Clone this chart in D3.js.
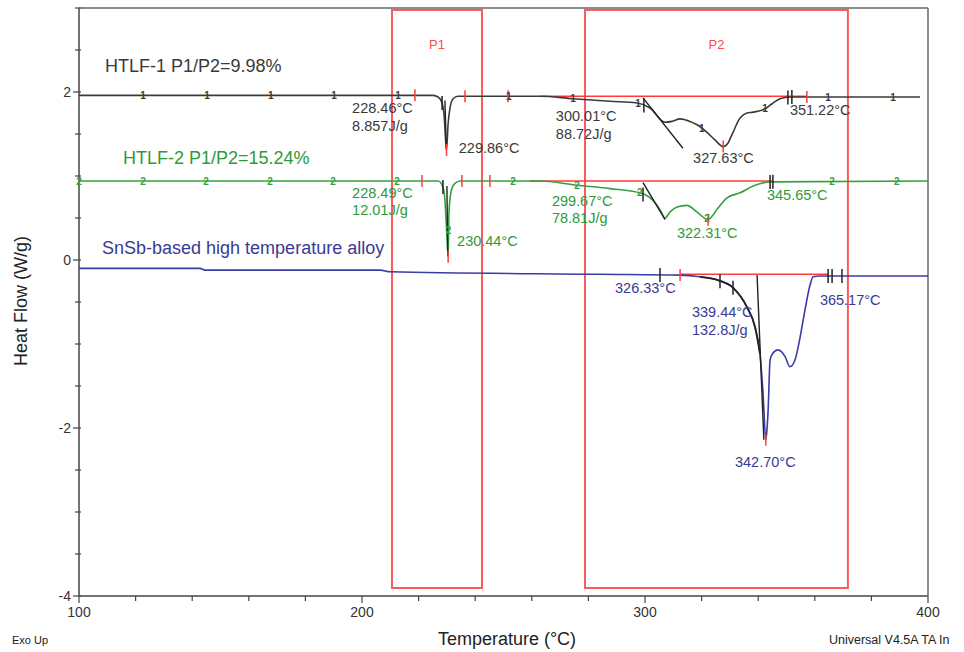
<!DOCTYPE html>
<html>
<head>
<meta charset="utf-8">
<script src="https://cdn.jsdelivr.net/npm/d3@7/dist/d3.min.js"></script>
<style>
  html, body { margin: 0; padding: 0; background: #fff; }
  svg { display: block; font-family: "Liberation Sans", Arial, sans-serif; }
</style>
</head>
<body>
<svg id="chart" width="964" height="652"></svg>
<script>
// ---------------- DATA ----------------
// HTLF-1 (curve 1): temperature (°C) and heat flow (W/g)
const temp1 = [100, 200, 225.1, 226.9, 228.3, 229.0, 229.86, 230.4, 231.1, 232.2, 233.9, 262.9, 274.6, 287.6, 297.2, 301.8, 307.1, 309.5, 312.4, 315.9, 318.4, 321.9, 324.7, 327.63, 329.3, 330.7, 333.6, 336.0, 338.2, 342.4, 344.9, 347.7, 351.2, 397.2];
const flow1 = [1.96, 1.96, 1.96, 1.94, 1.87, 1.73, 1.31, 1.61, 1.81, 1.92, 1.95, 1.95, 1.92, 1.89, 1.87, 1.81, 1.64, 1.65, 1.68, 1.65, 1.61, 1.52, 1.43, 1.35, 1.39, 1.49, 1.69, 1.75, 1.76, 1.80, 1.86, 1.92, 1.94, 1.94];

// HTLF-2 (curve 2)
const temp2 = [100, 225.1, 226.9, 228.6, 229.3, 230.0, 230.44, 230.7, 231.4, 232.5, 234.6, 262.9, 276.0, 287.6, 298.2, 302.8, 305.3, 307.1, 308.8, 311.3, 314.8, 318.4, 322.31, 323.7, 325.4, 329.0, 333.6, 338.2, 344.2, 400];
const flow2 = [0.94, 0.94, 0.94, 0.87, 0.71, 0.30, 0.04, 0.54, 0.80, 0.90, 0.94, 0.94, 0.89, 0.85, 0.80, 0.71, 0.60, 0.50, 0.57, 0.63, 0.65, 0.57, 0.48, 0.52, 0.60, 0.74, 0.80, 0.88, 0.93, 0.94];

// SnSb-based high temperature alloy (curve 3)
const temp3 = [100, 142.8, 144.5, 206.4, 209.9, 284.1, 312.4, 319.4, 325.8, 331.1, 336.0, 338.9, 340.6, 341.7, 342.70, 343.1, 343.5, 344.2, 345.2, 347.0, 349.5, 351.2, 353.0, 354.8, 356.5, 358.3, 359.4, 361.8, 400];
const flow3 = [-0.10, -0.10, -0.12, -0.12, -0.14, -0.17, -0.18, -0.20, -0.24, -0.33, -0.56, -0.80, -1.11, -1.58, -2.14, -2.02, -1.79, -1.19, -1.11, -1.07, -1.15, -1.27, -1.19, -0.92, -0.60, -0.30, -0.20, -0.19, -0.19];

// Series names
const seriesNames = ["HTLF-1 P1/P2=9.98%", "HTLF-2 P1/P2=15.24%", "SnSb-based high temperature alloy"];

// Curve number marker temperatures
const markers1 = [122.6, 145.2, 167.8, 190.1, 212.7, 251.9, 274.6, 297.5, 320.1, 342.4, 364.7, 387.6];
const markers2 = [100, 122.6, 144.9, 167.5, 189.8, 212.4, 230.6, 253.4, 276.0, 298.2, 321.9, 366.1, 389.0];

// Analysis tick temperatures (black / red)
const blackTicks1 = [228.3, 299.6, 350.5, 351.9];
const redTicks1 = [218.7, 236.4, 251.6, 229.86, 327.63, 357.2];
const blackTicks2 = [228.6, 299.3, 344.2, 345.2];
const redTicks2 = [221.2, 235.3, 245.2, 230.44, 322.31];
const blackTicks3 = [305.3, 326.5, 331.1, 364.7, 366.1, 369.6];
const redTicks3 = [312.4, 342.70];

// Integration baselines [T start, T end, heat flow]
const baselines = [[262.9, 357.2, 1.95], [259.4, 345.2, 0.94], [312.4, 364.7, -0.17]];

// Tangent construction lines [T1, v1, T2, v2]
const tangents = [[299.3, 1.93, 313.4, 1.33], [299.3, 0.92, 307.1, 0.48], [339.6, -0.18, 342.0, -2.14], [229.3, 1.90, 229.8, 1.31], [230.0, 0.88, 230.3, 0.05]];

// Peak analysis labels: [text, T anchor, heat-flow anchor, series]
const annotations = [
  ["228.46°C", 196.5, 1.745, 0], ["8.857J/g", 196.5, 1.535, 0], ["229.86°C", 234.2, 1.27, 0],
  ["300.01°C", 268.5, 1.66, 0], ["88.72J/g", 268.5, 1.44, 0], ["327.63°C", 317.0, 1.16, 0], ["351.22°C", 351.2, 1.73, 0],
  ["228.49°C", 196.5, 0.735, 1], ["12.01J/g", 196.5, 0.53, 1], ["230.44°C", 233.6, 0.17, 1],
  ["299.67°C", 267.1, 0.64, 1], ["78.81J/g", 267.1, 0.44, 1], ["322.31°C", 311.3, 0.26, 1], ["345.65°C", 343.1, 0.71, 1],
  ["326.33°C", 289.4, -0.39, 2], ["339.44°C", 316.6, -0.68, 2], ["132.8J/g", 316.6, -0.89, 2],
  ["342.70°C", 331.8, -2.47, 2], ["365.17°C", 361.8, -0.54, 2]
];

// Highlighted regions [label, T start, T end]
const regions = [["P1", 210.6, 242.4], ["P2", 278.8, 371.7]];

// Axis ticks
const xMajorTicks = [100, 200, 300, 400];
const xMinorTicks = d3.range(100, 401, 20);
const yMajorTicks = [-4, -2, 0, 2];
const yMinorTicks = d3.range(-4, 3.01, 0.5);

// ---------------- DRAWING ----------------
const colors = ["#3a3a3a", "#35a040", "#3c3ca6"];
const textColors = ["#3a3a3a", "#2e9a3a", "#3a3a96"];
const red = "#ff3b3b";

const svg = d3.select("#chart");
const x = d3.scaleLinear().domain([100, 400]).range([79, 928]);
const y = d3.scaleLinear().domain([-4, 3]).range([596, 8]);

const curves = [
  temp1.map((t, i) => [t, flow1[i]]),
  temp2.map((t, i) => [t, flow2[i]]),
  temp3.map((t, i) => [t, flow3[i]])
];
const bis = d3.bisector(d => d[0]).left;
function valueAt(c, t) {
  const data = curves[c];
  let i = bis(data, t);
  if (i <= 0) return data[0][1];
  if (i >= data.length) return data[data.length - 1][1];
  const a = data[i - 1], b = data[i];
  return a[1] + (b[1] - a[1]) * (t - a[0]) / (b[0] - a[0]);
}

// Region boxes
regions.forEach(r => {
  svg.append("rect")
    .attr("x", x(r[1])).attr("y", 10)
    .attr("width", x(r[2]) - x(r[1])).attr("height", 578)
    .attr("fill", "none").attr("stroke", "#ff5a5a").attr("stroke-width", 2);
  svg.append("text")
    .attr("x", (x(r[1]) + x(r[2])) / 2).attr("y", 49)
    .attr("text-anchor", "middle").attr("fill", "#ff4a4a")
    .attr("font-size", 13).text(r[0]);
});

// Axes
const xAxis = svg.append("g").attr("transform", "translate(0,596)");
xAxis.append("line").attr("x1", 79).attr("x2", 928).attr("stroke", "#444").attr("stroke-width", 1.5);
xMinorTicks.forEach(t => {
  const major = xMajorTicks.includes(t);
  xAxis.append("line").attr("x1", x(t)).attr("x2", x(t)).attr("y1", 0).attr("y2", major ? 7 : 5)
    .attr("stroke", "#444").attr("stroke-width", 1.2);
});
xMajorTicks.forEach(t => {
  xAxis.append("text").attr("x", x(t)).attr("y", 21).attr("text-anchor", "middle")
    .attr("font-size", 14).attr("fill", "#333").text(t);
});

const yAxis = svg.append("g");
yAxis.append("line").attr("x1", 79).attr("x2", 79).attr("y1", 8).attr("y2", 596).attr("stroke", "#444").attr("stroke-width", 1.5);
yMinorTicks.forEach(v => {
  const major = yMajorTicks.includes(v);
  yAxis.append("line").attr("x1", 79 - (major ? 6 : 4)).attr("x2", 79 + 2).attr("y1", y(v)).attr("y2", y(v))
    .attr("stroke", "#444").attr("stroke-width", 1.2);
});
yMajorTicks.forEach(v => {
  yAxis.append("text").attr("x", 71).attr("y", y(v) + 5).attr("text-anchor", "end")
    .attr("font-size", 14).attr("fill", "#333").text(v);
});
// top and right border
svg.append("line").attr("x1", 79).attr("x2", 928).attr("y1", 8).attr("y2", 8).attr("stroke", "#666").attr("stroke-width", 1.5);
svg.append("line").attr("x1", 928).attr("x2", 928).attr("y1", 8).attr("y2", 596).attr("stroke", "#666").attr("stroke-width", 1.5);

// Integration baselines (red)
baselines.forEach(b => {
  svg.append("line").attr("x1", x(b[0])).attr("x2", x(b[1])).attr("y1", y(b[2])).attr("y2", y(b[2]))
    .attr("stroke", red).attr("stroke-width", 1.6);
});

// Curves
const line = d3.line().x(d => x(d[0])).y(d => y(d[1])).curve(d3.curveMonotoneX);
curves.forEach((c, i) => {
  svg.append("path").datum(c).attr("d", line).attr("fill", "none")
    .attr("stroke", colors[i]).attr("stroke-width", 1.6);
});
// black partial-area overlay on curve 3
svg.append("path").datum(curves[2].filter(d => d[0] >= 319 && d[0] <= 340.6))
  .attr("d", line).attr("fill", "none").attr("stroke", "#222").attr("stroke-width", 1.8);

// Tangent lines
tangents.forEach(t => {
  svg.append("line").attr("x1", x(t[0])).attr("y1", y(t[1])).attr("x2", x(t[2])).attr("y2", y(t[3]))
    .attr("stroke", "#222").attr("stroke-width", 1.4);
});

// Analysis ticks
function drawTicks(c, temps, col, half) {
  temps.forEach(t => {
    const yy = y(valueAt(c, t));
    svg.append("line").attr("x1", x(t)).attr("x2", x(t)).attr("y1", yy - half).attr("y2", yy + half)
      .attr("stroke", col).attr("stroke-width", 1.5);
  });
}
drawTicks(0, blackTicks1, "#222", 7);
drawTicks(0, redTicks1, red, 6);
drawTicks(1, blackTicks2, "#222", 7);
drawTicks(1, redTicks2, red, 6);
drawTicks(2, blackTicks3, "#222", 7);
drawTicks(2, redTicks3, red, 6);

// Curve number markers
function drawMarkers(c, temps, label) {
  temps.forEach(t => {
    svg.append("text").attr("x", x(t)).attr("y", y(valueAt(c, t)) + 3.5)
      .attr("text-anchor", "middle").attr("font-size", 10).attr("font-weight", "bold")
      .attr("fill", colors[c]).text(label);
  });
}
drawMarkers(0, markers1, "1");
drawMarkers(1, markers2, "2");

// Annotations
annotations.forEach(a => {
  svg.append("text").attr("x", x(a[1])).attr("y", y(a[2]))
    .attr("font-size", 14.5).attr("fill", textColors[a[3]]).text(a[0]);
});

// Series labels
const seriesPos = [[105, 72], [123, 164], [102, 254]];
seriesNames.forEach((s, i) => {
  svg.append("text").attr("x", seriesPos[i][0]).attr("y", seriesPos[i][1])
    .attr("font-size", 18).attr("fill", textColors[i]).text(s);
});

// Axis titles
svg.append("text").attr("x", 507).attr("y", 645).attr("text-anchor", "middle")
  .attr("font-size", 18).attr("fill", "#222").text("Temperature (°C)");
svg.append("text").attr("transform", "translate(27,301) rotate(-90)").attr("text-anchor", "middle")
  .attr("font-size", 18).attr("fill", "#222").text("Heat Flow (W/g)");

svg.append("text").attr("x", 12).attr("y", 644).attr("font-size", 11).attr("fill", "#222").text("Exo Up");
svg.append("text").attr("x", 829).attr("y", 644).attr("font-size", 12.5).attr("fill", "#222").text("Universal V4.5A TA In");
</script>
</body>
</html>
